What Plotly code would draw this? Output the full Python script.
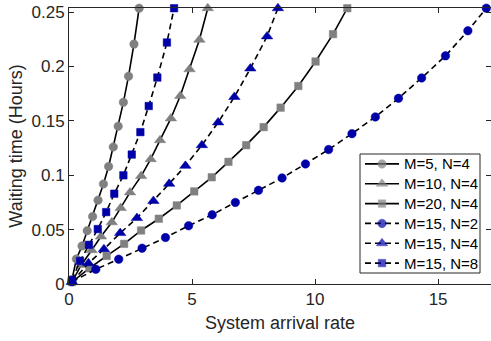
import plotly.graph_objects as go

# ---- data ----
x_m5n4 = [0.12, 0.30, 0.53, 0.74, 0.96, 1.18, 1.40, 1.61, 1.80, 2.00, 2.21, 2.42, 2.64, 2.85]
y_m5n4 = [0.004, 0.023, 0.035, 0.049, 0.062, 0.077, 0.092, 0.108, 0.126, 0.145, 0.167, 0.191, 0.2205, 0.2535]

x_m10n4 = [0.12, 0.50, 0.92, 1.30, 1.74, 2.10, 2.48, 2.93, 3.32, 3.70, 4.14, 4.52, 4.90, 5.30, 5.64]
y_m10n4 = [0.002, 0.0175, 0.031, 0.0436, 0.0567, 0.0698, 0.0842, 0.0992, 0.1147, 0.1322, 0.1522, 0.1728, 0.1974, 0.2245, 0.2535]

x_m20n4 = [0.12, 0.83, 1.53, 2.24, 2.93, 3.65, 4.38, 5.09, 5.80, 6.48, 7.20, 7.91, 8.60, 9.32, 10.02, 10.73, 11.31]
y_m20n4 = [0.0018, 0.0145, 0.0258, 0.0369, 0.0492, 0.0600, 0.0722, 0.0851, 0.0981, 0.1123, 0.1276, 0.1442, 0.1621, 0.1820, 0.2045, 0.2297, 0.2535]

x_m15n2 = [0.12, 1.09, 2.02, 2.97, 3.92, 4.86, 5.82, 6.76, 7.70, 8.66, 9.61, 10.55, 11.50, 12.45, 13.39, 14.33, 15.30, 16.21, 16.96]
y_m15n2 = [0.0021, 0.0135, 0.0228, 0.0329, 0.0427, 0.0535, 0.0637, 0.0750, 0.0861, 0.0975, 0.1104, 0.1236, 0.1382, 0.1536, 0.1707, 0.1894, 0.2097, 0.2328, 0.2535]

x_m15n4 = [0.12, 0.79, 1.42, 2.08, 2.76, 3.43, 4.07, 4.73, 5.40, 6.06, 6.72, 7.37, 8.05, 8.49]
y_m15n4 = [0.0018, 0.0191, 0.0320, 0.0468, 0.0606, 0.0763, 0.0921, 0.1086, 0.1276, 0.1485, 0.1719, 0.1981, 0.2276, 0.2535]

x_m15n8 = [0.12, 0.45, 0.81, 1.17, 1.51, 1.84, 2.21, 2.55, 2.90, 3.24, 3.59, 3.98, 4.27]
y_m15n8 = [0.0037, 0.0212, 0.0360, 0.0505, 0.0661, 0.0830, 0.0999, 0.1190, 0.1396, 0.1636, 0.1898, 0.2220, 0.2535]

names = ["M=5, N=4", "M=10, N=4", "M=20, N=4", "M=15, N=2", "M=15, N=4", "M=15, N=8"]

x_ticks = [0, 5, 10, 15]
y_ticks = [0, 0.05, 0.1, 0.15, 0.2, 0.25]
y_ticktext = ["0", "0.05", "0.1", "0.15", "0.2", "0.25"]

GRAY = "#808080"
BLUE = "#0000A8"
AX = "#262626"
FONT = "Liberation Sans, Arial, Helvetica, sans-serif"

series = [
    (x_m5n4, y_m5n4, names[0], GRAY, "circle", 8.5, "solid"),
    (x_m10n4, y_m10n4, names[1], GRAY, "triangle-up", 10, "solid"),
    (x_m20n4, y_m20n4, names[2], GRAY, "square", 7.5, "solid"),
    (x_m15n2, y_m15n2, names[3], BLUE, "circle", 8.5, "6px,4px"),
    (x_m15n4, y_m15n4, names[4], BLUE, "triangle-up", 10, "6px,4px"),
    (x_m15n8, y_m15n8, names[5], BLUE, "square", 7.5, "6px,4px"),
]

fig = go.Figure()
for xs, ys, nm, col, sym, sz, dash in series:
    fig.add_trace(go.Scatter(
        x=xs, y=ys, name=nm, mode="lines+markers",
        line=dict(color="black", width=1.6, dash=dash),
        marker=dict(symbol=sym, size=sz, color=col, line=dict(color=col, width=0.5)),
        cliponaxis=False, showlegend=False,
    ))

# ---- hand-built legend (pixel-space overlay axes) ----
LEG_LEFT, LEG_RIGHT, LEG_TOP, LEG_BOTTOM = 360, 480, 154, 273
row_h = (LEG_BOTTOM - LEG_TOP) / len(series)
annotations = []
for i, (xs, ys, nm, col, sym, sz, dash) in enumerate(series):
    yc = LEG_TOP + row_h * (i + 0.5)
    fig.add_trace(go.Scatter(
        x=[365, 382, 399], y=[yc, yc, yc], mode="lines+markers",
        xaxis="x2", yaxis="y2", showlegend=False, hoverinfo="skip",
        line=dict(color="black", width=1.6, dash=dash),
        marker=dict(symbol=sym, size=[0, sz, 0], color=col, line=dict(color=col, width=0.5)),
    ))
    annotations.append(dict(
        x=402, y=yc, xref="x2", yref="y2", text=nm, showarrow=False,
        xanchor="left", yanchor="middle",
        font=dict(family=FONT, size=15, color="black"),
    ))

axis_common = dict(
    showline=True, linecolor=AX, linewidth=1, mirror="ticks",
    ticks="inside", ticklen=5, tickcolor=AX, tickwidth=1,
    showgrid=False, zeroline=False,
    tickfont=dict(family=FONT, size=17, color=AX),
)

fig.update_layout(
    width=491, height=341,
    margin=dict(l=69, r=0, t=8, b=57),
    paper_bgcolor="white", plot_bgcolor="white",
    font=dict(family=FONT, color=AX),
    showlegend=False,
    xaxis=dict(
        range=[0, 17.15], tickvals=x_ticks,
        title=dict(text="System arrival rate", font=dict(family=FONT, size=18, color=AX), standoff=7),
        **axis_common,
    ),
    yaxis=dict(
        range=[0, 0.2537], tickvals=y_ticks, ticktext=y_ticktext,
        title=dict(text="Waiting time (Hours)", font=dict(family=FONT, size=18, color=AX), standoff=4),
        **axis_common,
    ),
    xaxis2=dict(overlaying="x", range=[69, 491], visible=False, anchor="y2"),
    yaxis2=dict(overlaying="y", range=[284, 8], visible=False, anchor="x2"),
    shapes=[dict(type="rect", xref="x2", yref="y2", x0=LEG_LEFT, x1=LEG_RIGHT,
                 y0=LEG_TOP, y1=LEG_BOTTOM, line=dict(color=AX, width=1),
                 fillcolor="rgba(0,0,0,0)", layer="above")],
    annotations=annotations,
)

fig.write_html("out.html")
